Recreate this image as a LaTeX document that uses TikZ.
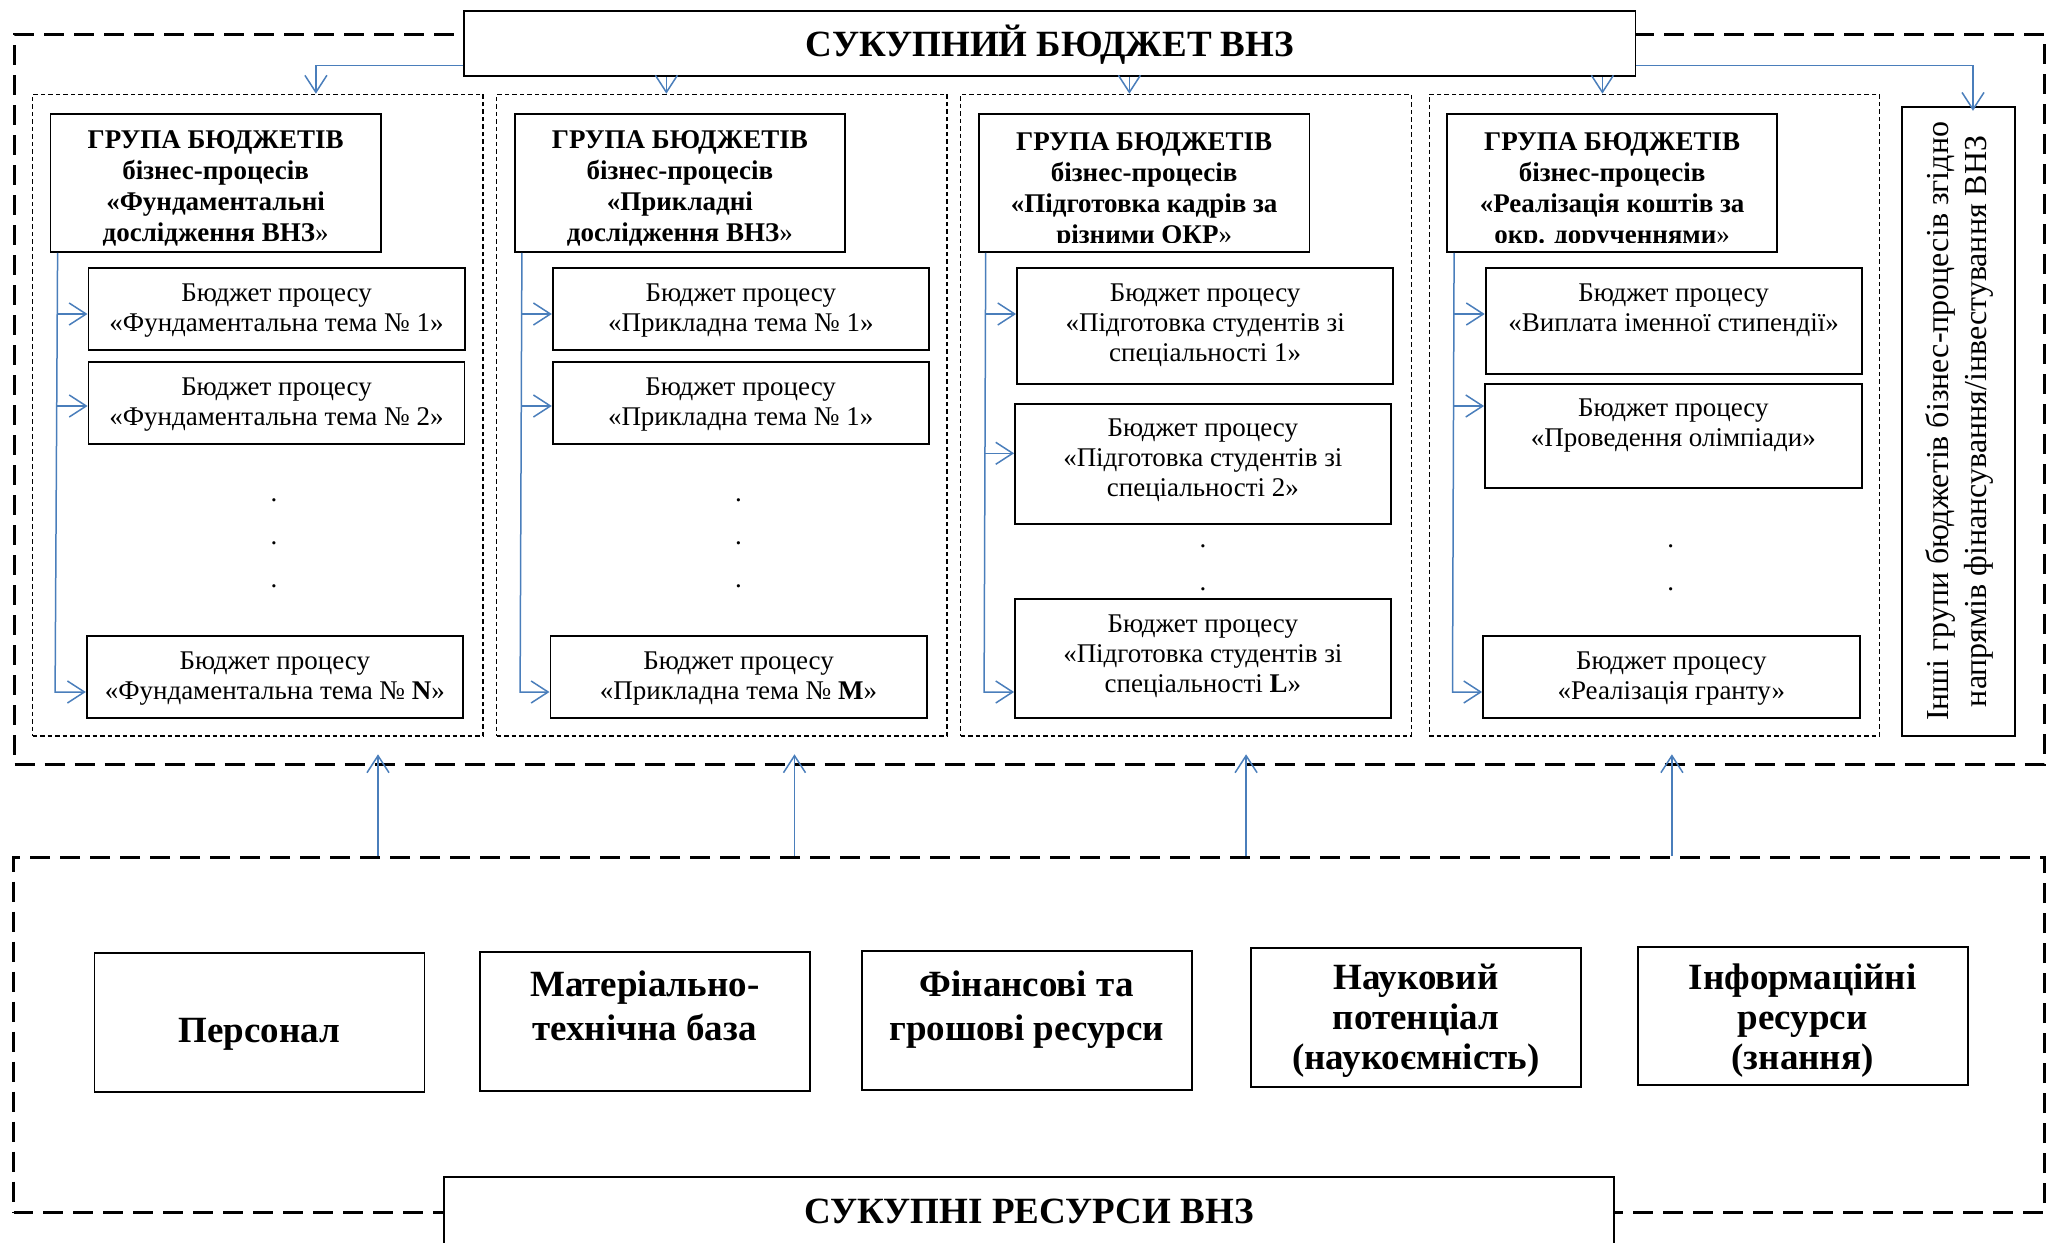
\documentclass[tikz,border=0pt]{standalone}
\usepackage{fontspec}
\setmainfont{Liberation Serif}
\usetikzlibrary{arrows.meta,calc,fit}
\definecolor{bluel}{HTML}{4A7EBB}
\newcommand{\mystrut}{\rule{0pt}{0.75em}}
\begin{document}
\begin{tikzpicture}[x=0.1mm,y=-0.1mm,
 bigdash/.style={draw, line width=0.3mm, dash pattern=on 2mm off 1mm, inner sep=0},
 grp/.style={draw, line width=0.12mm, dash pattern=on 0.45mm off 0.3mm, inner sep=0},
 box/.style={draw, line width=0.18mm, fill=white, inner sep=0},
 bline/.style={draw=bluel, line width=0.15mm},
 barrow/.style={bline, -{Straight Barb[length=1.7mm,width=2.2mm]}},
 htext/.style={font=\fontsize{7.68}{8.82}\selectfont\bfseries, align=center, inner sep=0, anchor=north},
 itext/.style={font=\fontsize{7.68}{8.54}\selectfont, align=center, inner sep=0, anchor=north},
 rtext/.style={font=\fontsize{10.53}{12.52}\selectfont\bfseries, align=center, inner sep=0, anchor=north},
 rtextb/.style={font=\fontsize{10.53}{11.38}\selectfont\bfseries, align=center, inner sep=0, anchor=north},
 ttext/.style={font=\fontsize{10.53}{12.5}\selectfont\bfseries, inner sep=0, anchor=base},
 dottext/.style={font=\fontsize{7.68}{8.54}\selectfont, inner sep=0, anchor=base}]
\useasboundingbox (0,0) rectangle (2058,1243);

% outer dashed areas
\node[bigdash, fit={(14.7,34) (2044,764.3)}] (UB) {};
\node[bigdash, fit={(13.5,857.7) (2044,1212.7)}] (LB) {};

% group frames
\node[grp, fit={(32.6,94.3) (483,736)}] (G1) {};
\node[grp, fit={(496.6,94.3) (947,736)}] (G2) {};
\node[grp, fit={(960.5,94.3) (1411.2,736)}] (G3) {};
\node[grp, fit={(1429.2,94.3) (1879.4,736)}] (G4) {};

% top box and side box
\node[box, fit={(464.3,10.7) (1635.4,76.3)}] (TB) {};
\node[box, fit={(1901.7,106.7) (2015.3,736)}] (SB) {};

% header boxes
\node[box, fit={(50.4,114) (380.8,252)}] (H1) {};
\node[box, fit={(514.7,114) (845.1,252)}] (H2) {};
\node[box, fit={(979,114) (1309.4,252)}] (H3) {};
\node[box, fit={(1447,114) (1777.3,252)}] (H4) {};

% item boxes
\node[box, fit={(88.4,267.7) (464.7,350.3)}] (I11) {};
\node[box, fit={(88.5,362) (464.5,443.7)}] (I12) {};
\node[box, fit={(86.7,636) (463,718.3)}] (I1N) {};
\node[box, fit={(552.7,267.7) (929,350.3)}] (I21) {};
\node[box, fit={(552.7,362) (928.6,443.7)}] (I22) {};
\node[box, fit={(550.4,636) (926.7,718.3)}] (I2M) {};
\node[box, fit={(1017,267.7) (1393.3,384)}] (I31) {};
\node[box, fit={(1015,404.3) (1390.7,524)}] (I32) {};
\node[box, fit={(1015,598.7) (1390.7,718.3)}] (I3L) {};
\node[box, fit={(1485.6,267.7) (1861.6,374)}] (I41) {};
\node[box, fit={(1485,384) (1861.7,488.3)}] (I42) {};
\node[box, fit={(1483,636) (1859.6,718.3)}] (I4L) {};

% resource boxes
\node[box, fit={(94.5,953.3) (424.4,1091.7)}] (R1) {};
\node[box, fit={(479.8,952.3) (809.7,1090.7)}] (R2) {};
\node[box, fit={(861.7,951.3) (1191.6,1090)}] (R3) {};
\node[box, fit={(1251,948.3) (1581,1086.7)}] (R4) {};
\node[box, fit={(1637.6,947.3) (1967.6,1085)}] (R5) {};
\node[box, fit={(444,1176.7) (1614,1270)}] (BB) {};

% titles
\node[ttext] (TBt) at ($(TB.center)+(0,13.2)$) {СУКУПНИЙ БЮДЖЕТ ВНЗ};
\node[ttext] (BBt) at (1029,1223.3) {СУКУПНІ РЕСУРСИ ВНЗ};

% header texts
\node[htext] (H1t) at ($(H1.north)+(0,14.8)$) {\mystrut ГРУПА БЮДЖЕТІВ\\бізнес-процесів\\«Фундаментальні\\дослідження ВНЗ{\mdseries»}};
\node[htext] (H2t) at ($(H2.north)+(0,14.8)$) {\mystrut ГРУПА БЮДЖЕТІВ\\бізнес-процесів\\«Прикладні\\дослідження ВНЗ{\mdseries»}};
\begin{scope}
\clip (979,114) rectangle (1309.4,242.6);
\node[htext] (H3t) at ($(H3.north)+(0,16.3)$) {\mystrut ГРУПА БЮДЖЕТІВ\\бізнес-процесів\\«Підготовка кадрів за\\різними ОКР{\mdseries»}};
\end{scope}
\begin{scope}
\clip (1447,114) rectangle (1777.3,242.6);
\node[htext] (H4t) at ($(H4.north)+(0,16.3)$) {\mystrut ГРУПА БЮДЖЕТІВ\\бізнес-процесів\\«Реалізація коштів за\\окр. дорученнями{\mdseries»}};
\end{scope}

% item texts
\node[itext] (I11t) at ($(I11.north)+(0,13.8)$) {\mystrut Бюджет процесу\\«Фундаментальна тема № 1»};
\node[itext] (I12t) at ($(I12.north)+(0,13.8)$) {\mystrut Бюджет процесу\\«Фундаментальна тема № 2»};
\node[itext] (I1Nt) at ($(I1N.north)+(0,13.8)$) {\mystrut Бюджет процесу\\«Фундаментальна тема № \textbf{N}»};
\node[itext] (I21t) at ($(I21.north)+(0,13.8)$) {\mystrut Бюджет процесу\\«Прикладна тема № 1»};
\node[itext] (I22t) at ($(I22.north)+(0,13.8)$) {\mystrut Бюджет процесу\\«Прикладна тема № 1»};
\node[itext] (I2Mt) at ($(I2M.north)+(0,13.8)$) {\mystrut Бюджет процесу\\«Прикладна тема № \textbf{M}»};
\node[itext] (I31t) at ($(I31.north)+(0,13.8)$) {\mystrut Бюджет процесу\\«Підготовка студентів зі\\спеціальності 1»};
\node[itext] (I32t) at ($(I32.north)+(0,12.5)$) {\mystrut Бюджет процесу\\«Підготовка студентів зі\\спеціальності 2»};
\node[itext] (I3Lt) at ($(I3L.north)+(0,13.5)$) {\mystrut Бюджет процесу\\«Підготовка студентів зі\\спеціальності \textbf{L}»};
\node[itext] (I41t) at ($(I41.north)+(0,13.8)$) {\mystrut Бюджет процесу\\«Виплата іменної стипендії»};
\node[itext] (I42t) at ($(I42.north)+(0,12.5)$) {\mystrut Бюджет процесу\\«Проведення олімпіади»};
\node[itext] (I4Lt) at ($(I4L.north)+(0,13.8)$) {\mystrut Бюджет процесу\\«Реалізація гранту»};

% dots
\node[dottext] (d11) at (274,501.5) {.};
\node[dottext] (d12) at (274,544.8) {.};
\node[dottext] (d13) at (274,587.5) {.};
\node[dottext] (d21) at (738.5,501.5) {.};
\node[dottext] (d22) at (738.5,544.8) {.};
\node[dottext] (d23) at (738.5,587.5) {.};
\node[dottext] (d31) at (1203,547.2) {.};
\node[dottext] (d32) at (1203,590.5) {.};
\node[dottext] (d41) at (1670.7,547.5) {.};
\node[dottext] (d42) at (1670.7,590.5) {.};

% side text
\node[font=\fontsize{9.1}{10.81}\selectfont, rotate=90, align=center, inner sep=0] (SBt) at ($(SB.center)+(0.5,0)$) {Інші групи бюджетів бізнес-процесів згідно\\напрямів фінансування/інвестування ВНЗ};

% resource texts
\node[ttext] (R1t) at (R1.center |- 0,1042.7) {Персонал};
\node[rtext] (R2t) at ($(R2.north)+(0,16.95)$) {\mystrut Матеріально-\\технічна база};
\node[rtext] (R3t) at ($(R3.north)+(0,17.95)$) {\mystrut Фінансові та\\грошові ресурси};
\node[rtextb] (R4t) at ($(R4.north)+(0,13.95)$) {\mystrut Науковий\\потенціал\\(наукоємність)};
\node[rtextb] (R5t) at ($(R5.north)+(0,14.95)$) {\mystrut Інформаційні\\ресурси\\(знання)};

% top connectors
\draw[barrow] ($(TB.south west)+(0,-11.6)$) -| ($(G1.north west)+(283.9,0)$);
\coordinate (g2a) at ($(G2.north west)+(170.4,0)$);
\coordinate (g3a) at ($(G3.north west)+(169.5,0)$);
\coordinate (g4a) at ($(G4.north west)+(173.8,0)$);
\draw[barrow] (TB.south -| g2a) -- (g2a);
\draw[barrow] (TB.south -| g3a) -- (g3a);
\draw[barrow] (TB.south -| g4a) -- (g4a);
\draw[barrow] ($(TB.south east)+(0,-11.6)$) -| ($(SB.north)+(14.5,5)$);

% column trunks
\draw[barrow] ($(H1.south west)+(8.1,0)$) -- ($(I1N.west)+(-30.7,14.85)$) -- ($(I1N.west)+(0,14.85)$);
\draw[barrow] ($(I11.west)+(-30.2,5)$) -- ($(I11.west)+(0,5)$);
\draw[barrow] ($(I12.west)+(-30.8,3.15)$) -- ($(I12.west)+(0,3.15)$);

\draw[barrow] ($(H2.south west)+(8.1,0)$) -- ($(I2M.west)+(-29.4,14.85)$) -- ($(I2M.west)+(0,14.85)$);
\draw[barrow] ($(I21.west)+(-30.2,5)$) -- ($(I21.west)+(0,5)$);
\draw[barrow] ($(I22.west)+(-30.5,3.15)$) -- ($(I22.west)+(0,3.15)$);

\draw[barrow] ($(H3.south west)+(7.6,0)$) -- ($(I3L.west)+(-30,33.5)$) -- ($(I3L.west)+(0,33.5)$);
\draw[barrow] ($(I31.west)+(-30.6,-11.85)$) -- ($(I31.west)+(0,-11.85)$);
\draw[barrow] ($(I32.west)+(-29,-10.85)$) -- ($(I32.west)+(0,-10.85)$);

\draw[barrow] ($(H4.south west)+(8,0)$) -- ($(I4L.west)+(-29.6,14.85)$) -- ($(I4L.west)+(0,14.85)$);
\draw[barrow] ($(I41.west)+(-30.8,-6.85)$) -- ($(I41.west)+(0,-6.85)$);
\draw[barrow] ($(I42.west)+(-30.5,-30.15)$) -- ($(I42.west)+(0,-30.15)$);

% upward connectors from resources to budgets
\coordinate (u1) at ($(LB.north west)+(366,0)$);
\coordinate (u2) at ($(LB.north west)+(782.5,0)$);
\coordinate (u3) at ($(LB.north west)+(1234.1,0)$);
\coordinate (u4) at ($(LB.north west)+(1659.9,0)$);
\draw[barrow] (u1) -- ($(u1 |- UB.south)+(0,-11.5)$);
\draw[barrow] (u2) -- ($(u2 |- UB.south)+(0,-11.5)$);
\draw[barrow] (u3) -- ($(u3 |- UB.south)+(0,-11.5)$);
\draw[barrow] (u4) -- ($(u4 |- UB.south)+(0,-11.5)$);
\end{tikzpicture}
\end{document}
